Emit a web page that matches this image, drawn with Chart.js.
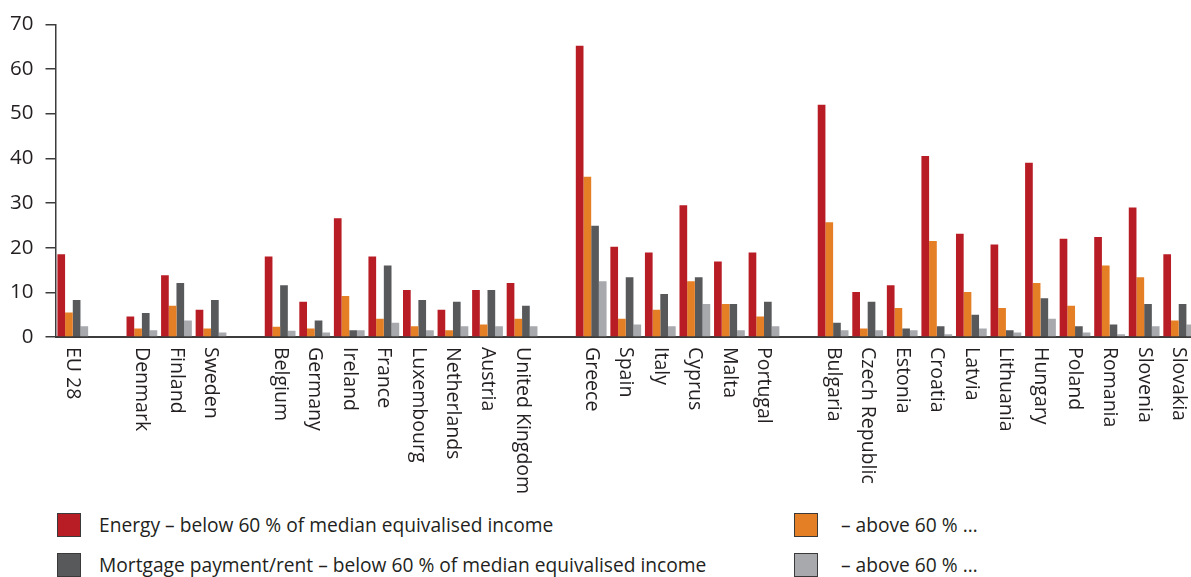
<!DOCTYPE html>
<html>
<head>
<meta charset="utf-8">
<script src="https://cdn.jsdelivr.net/npm/chart.js@4.4.1/dist/chart.umd.min.js"></script>
<style>
  html, body { margin: 0; padding: 0; background: #fff; overflow: hidden; }
  #chart { position: absolute; left: 0; top: 0; }
  #legend { position: absolute; left: 0; top: 0; font-family: "Open Sans", sans-serif; font-size: 19.2px; color: #231f20; }
  .box { position: absolute; width: 22px; height: 22px; border: 1px solid #3a3a3a; }
  .txt { position: absolute; white-space: nowrap; line-height: 24px; }
</style>
</head>
<body>
<canvas id="chart" width="1196" height="500"></canvas>
<div id="legend"></div>
<script>
// countries, empty strings are spacers between the country groups
var categories = ["EU 28", "", "Denmark", "Finland", "Sweden", "",
  "Belgium", "Germany", "Ireland", "France", "Luxembourg", "Netherlands", "Austria", "United Kingdom", "",
  "Greece", "Spain", "Italy", "Cyprus", "Malta", "Portugal", "",
  "Bulgaria", "Czech Republic", "Estonia", "Croatia", "Latvia", "Lithuania", "Hungary", "Poland", "Romania", "Slovenia", "Slovakia"];

var energyBelow = [18.5, null, 4.6, 13.8, 6.1, null, 18.0, 7.9, 26.6, 18.0, 10.5, 6.1, 10.5, 12.1, null,
  65.2, 20.2, 18.9, 29.5, 16.9, 18.9, null, 52.0, 10.1, 11.6, 40.5, 23.1, 20.7, 39.0, 22.0, 22.4, 29.0, 18.5];
var energyAbove = [5.5, null, 1.9, 7.0, 1.9, null, 2.3, 1.9, 9.2, 4.1, 2.4, 1.5, 2.8, 4.1, null,
  35.9, 4.1, 6.1, 12.5, 7.4, 4.6, null, 25.7, 1.9, 6.5, 21.5, 10.1, 6.5, 12.1, 7.0, 16.0, 13.4, 3.7];
var rentBelow = [8.3, null, 5.4, 12.1, 8.3, null, 11.6, 3.7, 1.5, 16.0, 8.3, 7.9, 10.5, 7.0, null,
  24.9, 13.4, 9.6, 13.4, 7.4, 7.9, null, 3.2, 7.9, 1.9, 2.4, 5.0, 1.5, 8.7, 2.4, 2.8, 7.4, 7.4];
var rentAbove = [2.4, null, 1.5, 3.7, 1.0, null, 1.4, 1.0, 1.5, 3.2, 1.5, 2.4, 2.4, 2.4, null,
  12.5, 2.8, 2.4, 7.4, 1.5, 2.4, null, 1.5, 1.5, 1.5, 0.6, 1.9, 1.0, 4.1, 1.0, 0.6, 2.4, 2.8];

var seriesLabels = [
  "Energy – below 60 % of median equivalised income",
  "– above 60 % …",
  "Mortgage payment/rent – below 60 % of median equivalised income",
  "– above 60 % …"
];
var seriesColors = ["#b81c24", "#e57f26", "#58595b", "#a7a9ac"];

var yTicks = [0, 10, 20, 30, 40, 50, 60, 70];

var textColor = "#231f20";
var font = '"Open Sans", sans-serif';

// country names hang down from the axis, rotated clockwise
var downLabels = {
  id: "downLabels",
  afterDraw: function (chart) {
    var xs = chart.scales.x;
    var ctx = chart.ctx;
    ctx.save();
    ctx.font = "19.5px " + font;
    ctx.fillStyle = textColor;
    ctx.textAlign = "left";
    ctx.textBaseline = "middle";
    categories.forEach(function (c, i) {
      if (!c) return;
      ctx.save();
      ctx.translate(xs.getPixelForValue(i), xs.top + 10);
      ctx.rotate(Math.PI / 2);
      ctx.fillText(c, 0, 0);
      ctx.restore();
    });
    ctx.restore();
  }
};

var series = [energyBelow, energyAbove, rentBelow, rentAbove];

new Chart("chart", {
  type: "bar",
  data: {
    labels: categories,
    datasets: series.map(function (d, i) {
      return {
        label: seriesLabels[i],
        data: d,
        backgroundColor: seriesColors[i],
        borderWidth: 0,
        barPercentage: 1,
        categoryPercentage: 0.89
      };
    })
  },
  options: {
    responsive: false,
    animation: false,
    devicePixelRatio: 1,
    layout: { padding: { top: 19, left: 0, right: 0, bottom: 0 } },
    plugins: { legend: { display: false }, tooltip: { enabled: false } },
    scales: {
      x: {
        ticks: { display: false },
        grid: { display: false },
        border: { display: true, color: "#3c3c3c", width: 2 },
        afterFit: function (s) { s.height = 163; }
      },
      y: {
        min: 0,
        max: 70,
        afterBuildTicks: function (s) { s.ticks = yTicks.map(function (v) { return { value: v }; }); },
        ticks: { color: textColor, font: { family: font, size: 20.5 }, padding: 12 },
        grid: { drawOnChartArea: false, drawTicks: true, tickLength: 10, color: "#3c3c3c", lineWidth: 1.5 },
        border: { display: true, color: "#3c3c3c", width: 1.5 },
        afterFit: function (s) { s.width = 55.5; }
      }
    }
  },
  plugins: [downLabels]
});

// legend: two columns, two rows
var legendPos = [[57, 513, 99], [794, 513, 841], [57, 553, 99], [794, 553, 841]];
var legend = document.getElementById("legend");
seriesLabels.forEach(function (t, i) {
  var p = legendPos[i];
  var b = document.createElement("div");
  b.className = "box";
  b.style.left = p[0] + "px";
  b.style.top = p[1] + "px";
  b.style.background = seriesColors[i];
  legend.appendChild(b);
  var s = document.createElement("div");
  s.className = "txt";
  s.style.left = p[2] + "px";
  s.style.top = p[1] + "px";
  s.textContent = t;
  legend.appendChild(s);
});
</script>
</body>
</html>
